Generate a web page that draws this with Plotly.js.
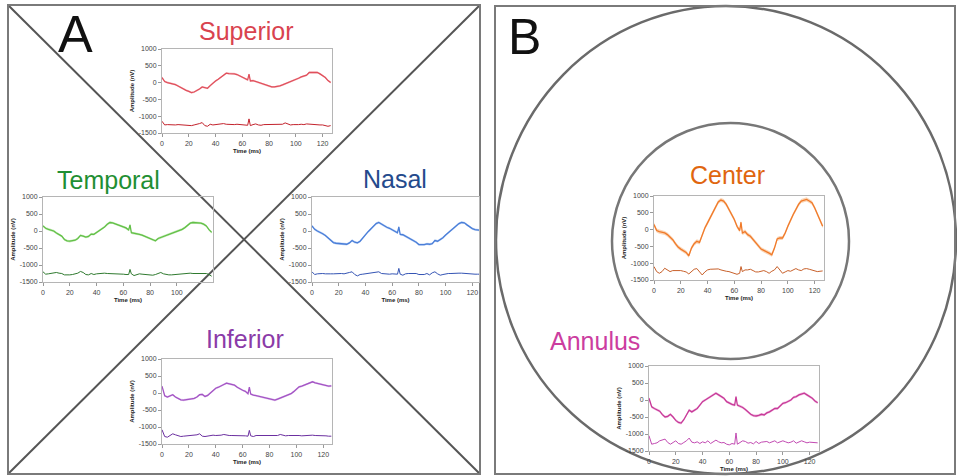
<!DOCTYPE html>
<html>
<head>
<meta charset="utf-8">
<script src="https://cdn.plot.ly/plotly-3.0.1.min.js"></script>
<style>html,body{margin:0;padding:0;background:#fff;}#chart{width:957px;height:476px;}</style>
</head>
<body>
<div id="chart"></div>
<script>
// ---------- DATA ----------
const time = [0,2,4,6,8,10,12,14,16,18,20,22,24,26,28,30,32,34,36,38,40,42,44,46,48,50,52,54,56,58,60,62,64,65,66,68,70,72,74,76,78,80,82,84,86,88,90,92,94,96,98,100,102,104,106,108,110,112,114,116,118,120,122,124,126];
const yTickVals = [-1500,-1000,-500,0,500,1000];
const yTickLabels = ['-1500','-1000','-500','0','500','1000'];
const xTickVals = [0,20,40,60,80,100,120];

const superiorMain = [150,30,0,-20,-30,-60,-100,-150,-200,-230,-260,-300,-280,-240,-190,-130,-150,-170,-90,-10,50,100,170,220,280,270,270,260,240,200,170,120,80,250,50,60,30,0,-30,-50,-80,-110,-130,-130,-120,-100,-70,-40,10,20,50,100,130,170,200,220,300,300,310,300,260,200,150,60,0];
const superiorLow = [-1150,-1260,-1250,-1260,-1250,-1260,-1250,-1260,-1270,-1280,-1290,-1280,-1260,-1250,-1220,-1190,-1280,-1300,-1240,-1260,-1250,-1250,-1240,-1220,-1240,-1250,-1260,-1250,-1240,-1250,-1250,-1260,-1270,-1080,-1280,-1250,-1230,-1260,-1270,-1250,-1250,-1260,-1250,-1260,-1250,-1260,-1240,-1200,-1220,-1260,-1250,-1260,-1250,-1240,-1250,-1230,-1240,-1250,-1240,-1250,-1260,-1260,-1270,-1300,-1280];

const temporalMain = [150,80,50,20,0,-60,-100,-150,-250,-290,-300,-290,-270,-220,-130,-150,-180,-160,-90,-100,-50,20,70,120,200,250,240,220,180,150,120,90,30,180,-50,-60,-80,-100,-120,-150,-180,-220,-250,-290,-220,-190,-170,-130,-110,-80,-50,-30,10,50,100,180,230,250,250,240,230,200,150,40,-40];
const temporalLow = [-1200,-1270,-1260,-1250,-1240,-1220,-1240,-1250,-1290,-1300,-1290,-1280,-1260,-1240,-1190,-1220,-1280,-1290,-1250,-1280,-1260,-1250,-1240,-1240,-1250,-1250,-1260,-1260,-1260,-1270,-1270,-1280,-1280,-1130,-1260,-1310,-1280,-1260,-1270,-1280,-1280,-1290,-1300,-1280,-1250,-1220,-1260,-1280,-1290,-1290,-1280,-1270,-1260,-1250,-1250,-1240,-1240,-1250,-1250,-1250,-1240,-1230,-1250,-1280,-1330];

const nasalMain = [150,50,0,-30,-80,-130,-200,-280,-340,-360,-370,-380,-380,-390,-350,-280,-330,-350,-300,-200,-100,-20,60,130,220,250,200,150,110,80,40,0,-50,120,-100,-110,-150,-200,-250,-280,-330,-400,-410,-400,-380,-390,-370,-280,-300,-260,-200,-120,-50,30,100,150,220,250,240,180,120,70,40,30,20];
const nasalLow = [-1200,-1280,-1260,-1250,-1250,-1260,-1270,-1260,-1260,-1250,-1240,-1250,-1260,-1250,-1220,-1200,-1280,-1320,-1280,-1270,-1260,-1260,-1250,-1240,-1220,-1200,-1250,-1260,-1270,-1270,-1260,-1260,-1270,-1100,-1270,-1300,-1260,-1250,-1250,-1250,-1250,-1280,-1280,-1280,-1250,-1290,-1230,-1200,-1260,-1300,-1280,-1260,-1250,-1250,-1240,-1240,-1240,-1240,-1250,-1260,-1270,-1280,-1270,-1270,-1270];

const inferiorMain = [200,-80,-120,-80,-50,-120,-160,-200,-210,-190,-180,-170,-160,-120,-50,-40,-100,-70,0,80,140,170,200,250,290,270,250,230,170,120,80,50,-20,170,-30,-60,-80,-100,-110,-130,-160,-180,-190,-210,-180,-150,-100,-80,-60,-20,40,100,180,200,230,260,310,330,300,280,260,250,220,200,210];
const inferiorLow = [-1080,-1280,-1300,-1250,-1200,-1230,-1260,-1280,-1270,-1260,-1250,-1260,-1250,-1230,-1200,-1270,-1280,-1260,-1250,-1240,-1250,-1250,-1240,-1220,-1240,-1250,-1250,-1250,-1250,-1240,-1250,-1260,-1270,-1100,-1260,-1280,-1250,-1250,-1260,-1260,-1250,-1260,-1270,-1260,-1250,-1220,-1250,-1260,-1250,-1250,-1240,-1230,-1250,-1260,-1250,-1240,-1250,-1240,-1250,-1250,-1240,-1250,-1260,-1270,-1270];

const centerMain = [150,-30,-60,-80,-100,-150,-220,-300,-420,-520,-580,-620,-680,-780,-550,-420,-350,-380,-150,50,200,350,500,680,820,880,850,750,600,450,300,100,-30,220,-100,-60,-150,-200,-300,-400,-500,-580,-620,-650,-700,-750,-550,-280,-250,-250,-100,100,300,450,600,750,850,880,900,850,800,650,450,250,100];
const centerLow = [-1100,-1250,-1300,-1250,-1150,-1200,-1250,-1220,-1220,-1200,-1220,-1240,-1260,-1320,-1250,-1180,-1160,-1260,-1350,-1260,-1200,-1180,-1180,-1180,-1170,-1200,-1230,-1240,-1250,-1270,-1300,-1330,-1300,-1100,-1250,-1200,-1200,-1180,-1220,-1260,-1260,-1240,-1220,-1250,-1300,-1240,-1200,-1100,-1200,-1300,-1260,-1220,-1240,-1200,-1160,-1200,-1220,-1170,-1160,-1180,-1200,-1220,-1250,-1240,-1230];

const annulusMain = [50,-200,-250,-300,-330,-430,-500,-480,-420,-500,-600,-660,-680,-580,-420,-300,-350,-300,-250,-150,-50,0,50,100,150,200,150,100,50,-50,-100,-130,-150,100,-150,-180,-220,-280,-350,-420,-460,-470,-450,-420,-440,-380,-350,-300,-250,-250,-180,-100,-80,-50,0,80,100,150,180,200,150,100,50,-30,-80];
const annulusLow = [-1050,-1300,-1280,-1260,-1200,-1180,-1150,-1250,-1300,-1250,-1200,-1280,-1300,-1250,-1200,-1120,-1240,-1260,-1230,-1280,-1230,-1260,-1200,-1280,-1240,-1180,-1230,-1260,-1250,-1300,-1320,-1280,-1300,-970,-1300,-1260,-1200,-1220,-1270,-1250,-1290,-1220,-1280,-1240,-1230,-1220,-1260,-1240,-1200,-1260,-1240,-1200,-1230,-1260,-1240,-1200,-1270,-1240,-1200,-1230,-1260,-1240,-1240,-1260,-1260];

// standard error half-width of the shaded band, nV
const bandHalfWidth = {Superior:30, Temporal:35, Nasal:35, Inferior:30, Center:60, Annulus:40};

// ---------- LAYOUT CONFIG ----------
const W = 957, H = 476;
const panels = [
  {name:'Superior', main:superiorMain, low:superiorLow, box:[162,332,49,133], xmax:127, tl:[247,31],
   title:'#d9434f', line:'#e0505c', band:'rgba(240,150,158,0.55)', lowc:'#c3222c', xt:xTickVals},
  {name:'Temporal', main:temporalMain, low:temporalLow, box:[43,213,197,282], xmax:127, tl:[108,180],
   title:'#1f8f33', line:'#63c048', band:'rgba(160,220,140,0.6)', lowc:'#2f7a2f', xt:[0,20,40,60,80,100]},
  {name:'Nasal', main:nasalMain, low:nasalLow, box:[312,479,197,282], xmax:125, tl:[395,179],
   title:'#244a8c', line:'#4a7ed8', band:'rgba(150,185,240,0.6)', lowc:'#3454b4', xt:xTickVals},
  {name:'Inferior', main:inferiorMain, low:inferiorLow, box:[162,332,359,444], xmax:126.5, tl:[245,339],
   title:'#8b3ba8', line:'#a455c4', band:'rgba(210,170,232,0.65)', lowc:'#6b2fa0', xt:xTickVals},
  {name:'Center', main:centerMain, low:centerLow, box:[654,824,196,280], xmax:127, tl:[727,175],
   title:'#e0660f', line:'#f07a2a', band:'rgba(248,195,150,0.7)', lowc:'#c8602a', xt:xTickVals},
  {name:'Annulus', main:annulusMain, low:annulusLow, box:[649,819,366,451], xmax:127, tl:[595,341],
   title:'#cc3d9f', line:'#c83a98', band:'rgba(232,160,212,0.65)', lowc:'#c24ab2', xt:xTickVals}
];

const px = x => x / W;
const py = y => 1 - y / H;

const traces = [];
const layout = {
  width: W, height: H,
  margin: {l:0, r:0, t:0, b:0},
  paper_bgcolor: '#ffffff',
  plot_bgcolor: '#ffffff',
  showlegend: false,
  font: {family: 'Liberation Sans, Arial, sans-serif', color: '#333'},
  annotations: [],
  shapes: []
};

panels.forEach((p, i) => {
  const n = i + 1;
  const xa = n === 1 ? 'x' : 'x' + n;
  const ya = n === 1 ? 'y' : 'y' + n;
  const hw = bandHalfWidth[p.name];
  const upper = p.main.map(v => v + hw);
  const lower = p.main.map(v => v - hw);
  traces.push({x: time, y: upper, xaxis: xa, yaxis: ya, mode: 'lines', line: {width: 0, color: p.band}, hoverinfo: 'skip'});
  traces.push({x: time, y: lower, xaxis: xa, yaxis: ya, mode: 'lines', line: {width: 0, color: p.band}, fill: 'tonexty', fillcolor: p.band, hoverinfo: 'skip'});
  traces.push({x: time, y: p.main, xaxis: xa, yaxis: ya, mode: 'lines', line: {width: 1.3, color: p.line}});
  traces.push({x: time, y: p.low, xaxis: xa, yaxis: ya, mode: 'lines', line: {width: 1, color: p.lowc}});

  const [x0, x1, y0, y1] = p.box;
  const axCommon = {
    showline: true, mirror: true, linecolor: '#b5b5b5', linewidth: 1,
    ticks: 'outside', ticklen: 3, tickcolor: '#999', tickwidth: 1,
    showgrid: false, zeroline: false,
    tickfont: {size: 7, color: '#444', family: 'Liberation Sans, Arial, sans-serif'},
    fixedrange: true
  };
  layout['xaxis' + (n === 1 ? '' : n)] = Object.assign({}, axCommon, {
    domain: [px(x0), px(x1)], anchor: ya, range: [0, p.xmax],
    tickmode: 'array', tickvals: p.xt, ticklabelstandoff: 1,
    title: {text: '<b>Time (ms)</b>', font: {size: 6, color: '#222'}, standoff: 2}
  });
  layout['yaxis' + (n === 1 ? '' : n)] = Object.assign({}, axCommon, {
    domain: [py(y1), py(y0)], anchor: xa, range: [-1500, 1000],
    tickmode: 'array', tickvals: yTickVals, ticktext: yTickLabels,
    title: {text: '<b>Amplitude (nV)</b>', font: {size: 6, color: '#222'}, standoff: 3}
  });

  layout.annotations.push({
    xref: 'paper', yref: 'paper', x: px(p.tl[0]), y: py(p.tl[1]),
    xanchor: 'center', yanchor: 'middle', showarrow: false,
    text: p.name, font: {size: 25, color: p.title, family: 'Liberation Sans, Arial, sans-serif'}
  });
});

// panel letters
layout.annotations.push({xref:'paper', yref:'paper', x:px(75.5), y:py(34), xanchor:'center', yanchor:'middle', showarrow:false,
  text:'A', font:{size:52, color:'#111', family:'Liberation Sans, Arial, sans-serif'}});
layout.annotations.push({xref:'paper', yref:'paper', x:px(524), y:py(37), xanchor:'center', yanchor:'middle', showarrow:false,
  text:'B', font:{size:50, color:'#111', family:'Liberation Sans, Arial, sans-serif'}});

// frames, diagonals, circles
const frame = {color:'#7a7a7a', width:2};
const diag = {color:'#555555', width:2};
layout.shapes.push({type:'line', xref:'paper', yref:'paper', x0:px(8), y0:py(5), x1:px(480), y1:py(474), line:diag, layer:'below'});
layout.shapes.push({type:'line', xref:'paper', yref:'paper', x0:px(480), y0:py(5), x1:px(8), y1:py(474), line:diag, layer:'below'});
layout.shapes.push({type:'rect', xref:'paper', yref:'paper', x0:px(8), y0:py(5), x1:px(480), y1:py(474), line:frame, layer:'below'});
layout.shapes.push({type:'circle', xref:'paper', yref:'paper', x0:px(496), y0:py(6), x1:px(956), y1:py(474), line:{color:'#6a6a6a', width:2.5}, layer:'below'});
layout.shapes.push({type:'circle', xref:'paper', yref:'paper', x0:px(612), y0:py(123), x1:px(849), y1:py(359), line:{color:'#777', width:2.5}, layer:'below'});
layout.shapes.push({type:'rect', xref:'paper', yref:'paper', x0:px(495), y0:py(6), x1:px(955), y1:py(474), line:frame, layer:'below'});

Plotly.newPlot('chart', traces, layout, {staticPlot: true, displayModeBar: false});
</script>
</body>
</html>
